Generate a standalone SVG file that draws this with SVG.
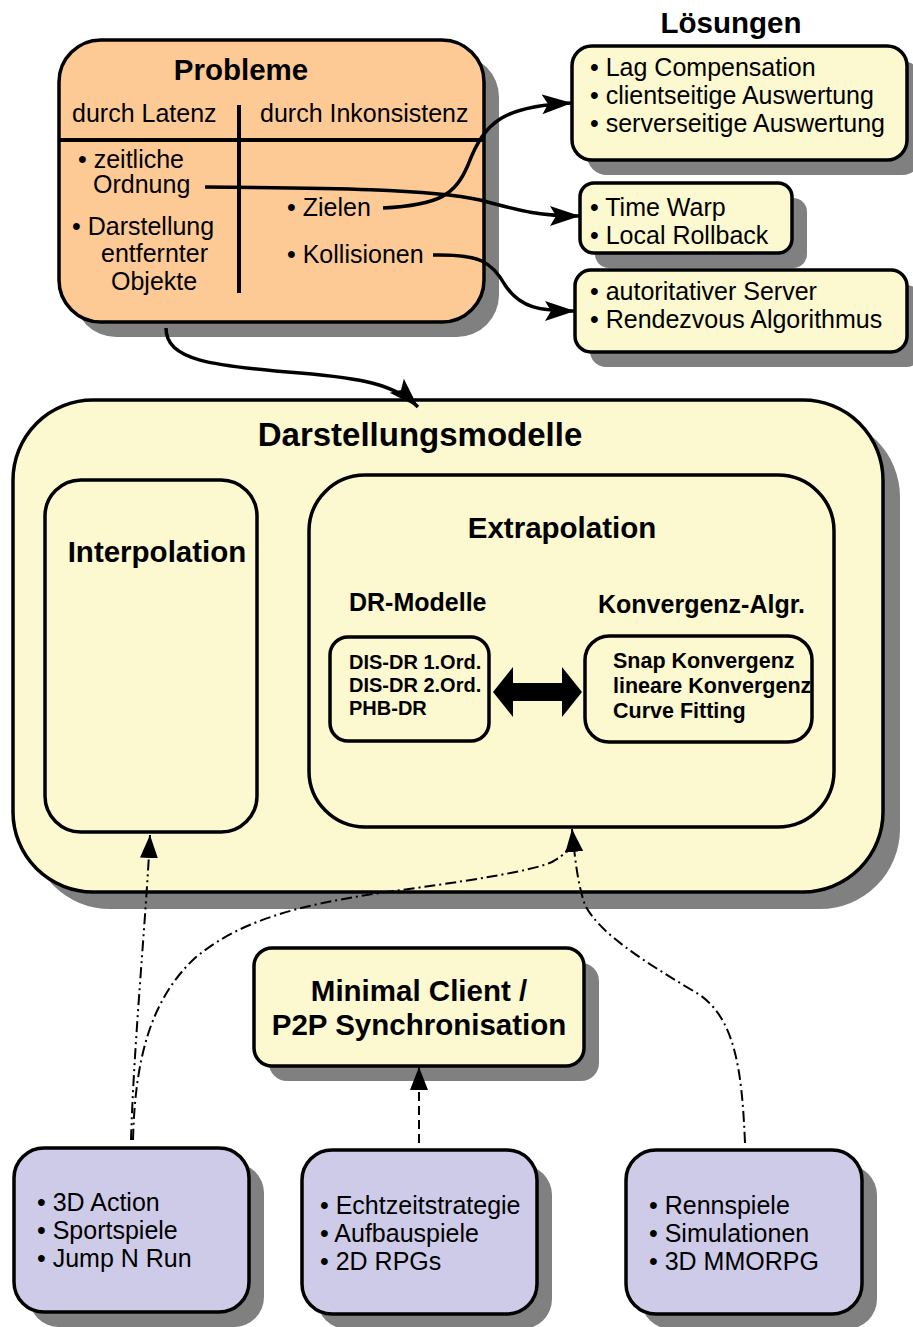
<svg xmlns="http://www.w3.org/2000/svg" width="913" height="1327" viewBox="0 0 913 1327">
  <style>
    text { font-family: "Liberation Sans", Arial, sans-serif; fill: #000; }
    .t { font-size: 25px; }
    .h { font-size: 29.5px; font-weight: bold; }
    .b { font-size: 25px; font-weight: bold; }
    .s { font-size: 20px; font-weight: bold; }
    .s2 { font-size: 21.5px; font-weight: bold; }
    .box { stroke: #000; stroke-width: 3.5; }
    .shadow { fill: #808080; }
    .peach { fill: #fdca96; }
    .yellow { fill: #fcf8cf; }
    .lav { fill: #cdcbe7; }
    .line { fill: none; stroke: #000; stroke-width: 3.5; }
    .sep { fill: none; stroke: #000; stroke-width: 4; }
    .dd { fill: none; stroke: #000; stroke-width: 2; stroke-dasharray: 11 4 2 4 2 4; }
    .dot { fill: none; stroke: #000; stroke-width: 2; stroke-dasharray: 11 4 2 4; }
    .dash { fill: none; stroke: #000; stroke-width: 2; stroke-dasharray: 9 5; }
  </style>
  <defs>
    <marker id="big" markerUnits="userSpaceOnUse" markerWidth="32" markerHeight="22" refX="30" refY="10" orient="auto">
      <path d="M0,0 L30,10 L0,20 L6,10 z" fill="#000"/>
    </marker>
    <marker id="small" markerUnits="userSpaceOnUse" markerWidth="26" markerHeight="20" refX="23" refY="9" orient="auto">
      <path d="M0,0 L23,9 L0,18 z" fill="#000"/>
    </marker>
  </defs>

  <!-- Probleme -->
  <g id="probleme">
    <rect class="shadow" x="74" y="55" width="425" height="282" rx="42"/>
    <rect class="box peach" x="59" y="40" width="425" height="282" rx="42"/>
    <text class="h" x="241" y="80" text-anchor="middle">Probleme</text>
    <line class="sep" x1="60" y1="140" x2="483" y2="140"/>
    <line class="sep" x1="239" y1="105" x2="239" y2="293"/>
    <text class="t" x="72" y="122">durch Latenz</text>
    <text class="t" x="260" y="122">durch Inkonsistenz</text>
    <text class="t" x="78" y="168">• zeitliche</text>
    <text class="t" x="93" y="193">Ordnung</text>
    <text class="t" x="72" y="235">• Darstellung</text>
    <text class="t" x="101" y="262">entfernter</text>
    <text class="t" x="111" y="290">Objekte</text>
    <text class="t" x="287" y="216">• Zielen</text>
    <text class="t" x="287" y="263">• Kollisionen</text>
  </g>

  <!-- Lösungen -->
  <text class="h" x="731" y="33" text-anchor="middle">Lösungen</text>
  <g id="loesung1">
    <rect class="shadow" x="587" y="61" width="335" height="114" rx="20"/>
    <rect class="box yellow" x="572" y="46" width="335" height="114" rx="20"/>
    <text class="t" x="590" y="76">• Lag Compensation</text>
    <text class="t" x="590" y="104">• clientseitige Auswertung</text>
    <text class="t" x="590" y="132">• serverseitige Auswertung</text>
  </g>
  <g id="loesung2">
    <rect class="shadow" x="595" y="198" width="212" height="70" rx="14"/>
    <rect class="box yellow" x="580" y="183" width="212" height="70" rx="14"/>
    <text class="t" x="590" y="216">• Time Warp</text>
    <text class="t" x="590" y="244">• Local Rollback</text>
  </g>
  <g id="loesung3">
    <rect class="shadow" x="590" y="285" width="332" height="82" rx="16"/>
    <rect class="box yellow" x="575" y="270" width="332" height="82" rx="16"/>
    <text class="t" x="590" y="300">• autoritativer Server</text>
    <text class="t" x="590" y="328">• Rendezvous Algorithmus</text>
  </g>

  <!-- Darstellungsmodelle -->
  <g id="darstellungsmodelle">
    <rect class="shadow" x="30" y="417" width="870" height="492" rx="80"/>
    <rect class="box yellow" x="13" y="400" width="870" height="492" rx="80"/>
    <text x="420" y="446" text-anchor="middle" style="font-size:33px;font-weight:bold">Darstellungsmodelle</text>
  </g>
  <g id="interpolation">
    <rect class="box yellow" x="45" y="480" width="212" height="352" rx="36"/>
    <text class="h" x="157" y="562" text-anchor="middle">Interpolation</text>
  </g>
  <g id="extrapolation">
    <rect class="box yellow" x="309" y="475" width="525" height="352" rx="56"/>
    <text class="h" x="562" y="538" text-anchor="middle">Extrapolation</text>
    <text class="b" x="349" y="611">DR-Modelle</text>
    <text class="b" x="598" y="613">Konvergenz-Algr.</text>
  </g>
  <g id="dr-modelle">
    <rect class="box yellow" x="330" y="637" width="159" height="104" rx="18"/>
    <text class="s" x="349" y="669">DIS-DR 1.Ord.</text>
    <text class="s" x="349" y="692">DIS-DR 2.Ord.</text>
    <text class="s" x="349" y="715">PHB-DR</text>
  </g>
  <g id="konvergenz">
    <rect class="box yellow" x="585" y="636" width="227" height="106" rx="24"/>
    <text class="s2" x="613" y="668">Snap Konvergenz</text>
    <text class="s2" x="613" y="693">lineare Konvergenz</text>
    <text class="s2" x="613" y="718">Curve Fitting</text>
  </g>

  <!-- Minimal Client -->
  <g id="minimal-client">
    <rect class="shadow" x="269" y="963" width="330" height="118" rx="18"/>
    <rect class="box yellow" x="254" y="948" width="330" height="118" rx="18"/>
    <text class="h" x="419" y="1001" text-anchor="middle">Minimal Client /</text>
    <text class="h" x="419" y="1035" text-anchor="middle">P2P Synchronisation</text>
  </g>

  <!-- Spielgenres -->
  <g id="genre-action">
    <rect class="shadow" x="29" y="1163" width="235" height="164" rx="30"/>
    <rect class="box lav" x="14" y="1148" width="235" height="164" rx="30"/>
    <text class="t" x="37" y="1211">• 3D Action</text>
    <text class="t" x="37" y="1239">• Sportspiele</text>
    <text class="t" x="37" y="1267">• Jump N Run</text>
  </g>
  <g id="genre-strategie">
    <rect class="shadow" x="317" y="1165" width="235" height="164" rx="30"/>
    <rect class="box lav" x="302" y="1150" width="235" height="164" rx="30"/>
    <text class="t" x="320" y="1214">• Echtzeitstrategie</text>
    <text class="t" x="320" y="1242">• Aufbauspiele</text>
    <text class="t" x="320" y="1270">• 2D RPGs</text>
  </g>
  <g id="genre-simulation">
    <rect class="shadow" x="641" y="1165" width="236" height="164" rx="30"/>
    <rect class="box lav" x="626" y="1150" width="236" height="164" rx="30"/>
    <text class="t" x="649" y="1214">• Rennspiele</text>
    <text class="t" x="649" y="1242">• Simulationen</text>
    <text class="t" x="649" y="1270">• 3D MMORPG</text>
  </g>

  <!-- Verbindungen -->
  <g id="connectors">
    <path class="line" marker-end="url(#big)" d="M383,208 C440,205 455,195 468,165 C485,120 505,106 572,103"/>
    <path class="line" marker-end="url(#big)" d="M205,187 C330,188 430,189 480,200 C525,212 540,216 580,216"/>
    <path class="line" marker-end="url(#big)" d="M433,255 C480,254 492,262 505,285 C520,308 540,311 575,311"/>
    <path class="line" marker-end="url(#big)" d="M166,328 C166,360 210,366 300,373 C360,378 395,384 418,407"/>
    <polygon points="493,692 513,667 513,683 562,683 562,667 582,692 562,717 562,701 513,701 513,717" fill="#000"/>
    <path class="dd" marker-end="url(#small)" d="M131,1140 C134,1040 146,920 150,835"/>
    <path class="dot" d="M133,1140 C135,1060 150,1000 195,958 C240,920 300,905 380,893 C460,882 530,872 552,862 C565,855 570,848 572,840"/>
    <path class="dot" marker-end="url(#small)" d="M745,1143 C742,1070 735,1020 700,995 C650,965 600,935 585,905 C578,885 575,860 572,829"/>
    <path class="dash" marker-end="url(#small)" d="M419,1143 L419,1067"/>
  </g>
</svg>
